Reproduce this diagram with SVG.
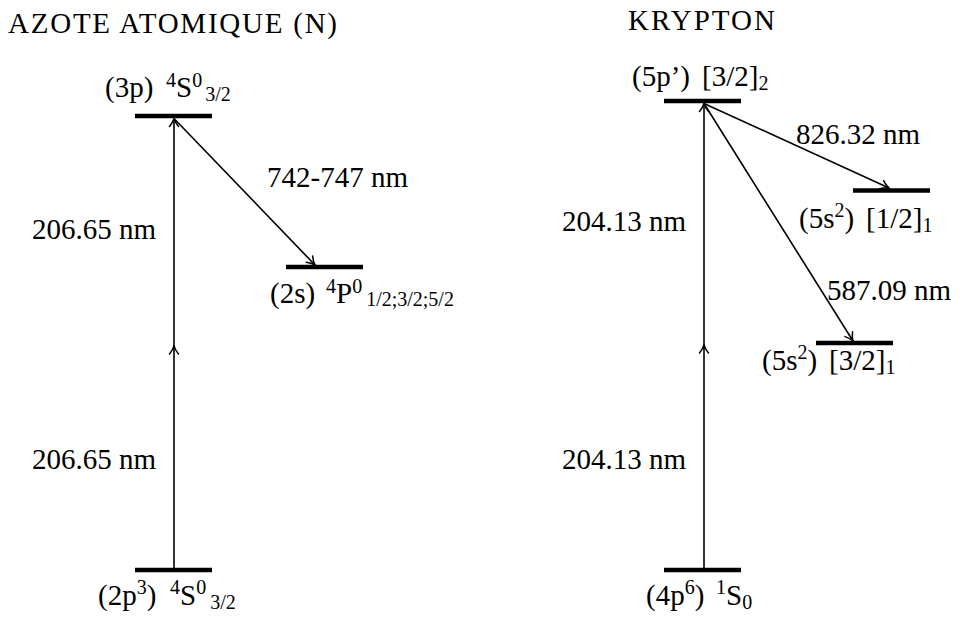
<svg xmlns="http://www.w3.org/2000/svg" width="960" height="621" viewBox="0 0 960 621">
<style>
text{font-family:"Liberation Serif","DejaVu Serif","Noto Serif","Tinos","Times New Roman","Nimbus Roman","FreeSerif",Times,serif;font-size:29px;fill:#000}
.s{font-size:20px}
.bar{stroke:#000;stroke-width:4.6}
.ar{stroke:#000;stroke-width:1.6;fill:none}
</style>
<defs>
<marker id="ah" viewBox="-10 -6 11 12" markerWidth="11" markerHeight="12" refX="0" refY="0" orient="auto" markerUnits="userSpaceOnUse">
<path d="M-8,-4.5 C-5,-2 -2,-0.6 0,0 C-2,0.6 -5,2 -8,4.5" fill="none" stroke="#000" stroke-width="1.5" stroke-linecap="round"/>
</marker>
</defs>
<rect width="960" height="621" fill="#fff"/>
<text id="title-n" x="8" y="33" textLength="329" lengthAdjust="spacing">AZOTE ATOMIQUE (N)</text>
<text id="title-kr" x="628" y="30" textLength="147" lengthAdjust="spacing">KRYPTON</text>

<g id="n-3p">
<line class="bar" x1="135" y1="116" x2="212" y2="116"/>
<text><tspan x="105" y="97">(3p)</tspan><tspan class="s" x="166" y="87">4</tspan><tspan y="97">S</tspan><tspan class="s" y="87">0</tspan><tspan class="s" dx="3" y="101">3/2</tspan></text>
</g>
<g id="n-2s">
<line class="bar" x1="286" y1="267" x2="363" y2="267"/>
<text><tspan x="270" y="303">(2s)</tspan><tspan class="s" x="326" y="293">4</tspan><tspan y="303">P</tspan><tspan class="s" y="293">0</tspan><tspan class="s" dx="4" y="306">1/2;3/2;5/2</tspan></text>
</g>
<g id="n-2p3">
<line class="bar" x1="135" y1="570" x2="212" y2="570"/>
<text><tspan x="98" y="605">(2p</tspan><tspan class="s" y="594">3</tspan><tspan y="605">)</tspan><tspan class="s" x="170" y="594">4</tspan><tspan y="605">S</tspan><tspan class="s" y="594">0</tspan><tspan class="s" dx="4" y="609">3/2</tspan></text>
</g>

<g id="kr-5p">
<line class="bar" x1="664" y1="101" x2="741" y2="101"/>
<text><tspan x="632" y="86">(5p’)</tspan><tspan x="702" y="86">[3/2]</tspan><tspan class="s" y="90">2</tspan></text>
</g>
<g id="kr-5s-12">
<line class="bar" x1="853" y1="190.5" x2="930" y2="190.5"/>
<text><tspan x="799" y="228">(5s</tspan><tspan class="s" y="217">2</tspan><tspan y="228">)</tspan><tspan x="866" y="228">[1/2]</tspan><tspan class="s" y="232">1</tspan></text>
</g>
<g id="kr-5s-32">
<line class="bar" x1="816" y1="343" x2="893" y2="343"/>
<text><tspan x="762" y="370">(5s</tspan><tspan class="s" y="359">2</tspan><tspan y="370">)</tspan><tspan x="829" y="370">[3/2]</tspan><tspan class="s" y="374">1</tspan></text>
</g>
<g id="kr-4p6">
<line class="bar" x1="664" y1="570" x2="741" y2="570"/>
<text><tspan x="646" y="605">(4p</tspan><tspan class="s" y="594">6</tspan><tspan y="605">)</tspan><tspan class="s" x="716" y="594">1</tspan><tspan y="605">S</tspan><tspan class="s" y="609">0</tspan></text>
</g>

<g id="connectors">
<line class="ar" x1="174" y1="568" x2="174" y2="346" marker-end="url(#ah)"/>
<line class="ar" x1="174" y1="346" x2="174" y2="118.5" marker-end="url(#ah)"/>
<line class="ar" x1="174" y1="118.5" x2="315" y2="265" marker-end="url(#ah)"/>
<text x="32" y="239">206.65 nm</text>
<text x="32" y="469">206.65 nm</text>
<text x="267" y="187">742-747 nm</text>

<line class="ar" x1="704" y1="568" x2="704" y2="345" marker-end="url(#ah)"/>
<line class="ar" x1="704" y1="345" x2="704" y2="103.5" marker-end="url(#ah)"/>
<line class="ar" x1="704" y1="103.5" x2="889" y2="188" marker-end="url(#ah)"/>
<line class="ar" x1="704" y1="103.5" x2="853" y2="341" marker-end="url(#ah)"/>
<text x="562" y="231">204.13 nm</text>
<text x="562" y="469">204.13 nm</text>
<text x="796" y="144">826.32 nm</text>
<text x="827" y="300">587.09 nm</text>
</g>
</svg>
